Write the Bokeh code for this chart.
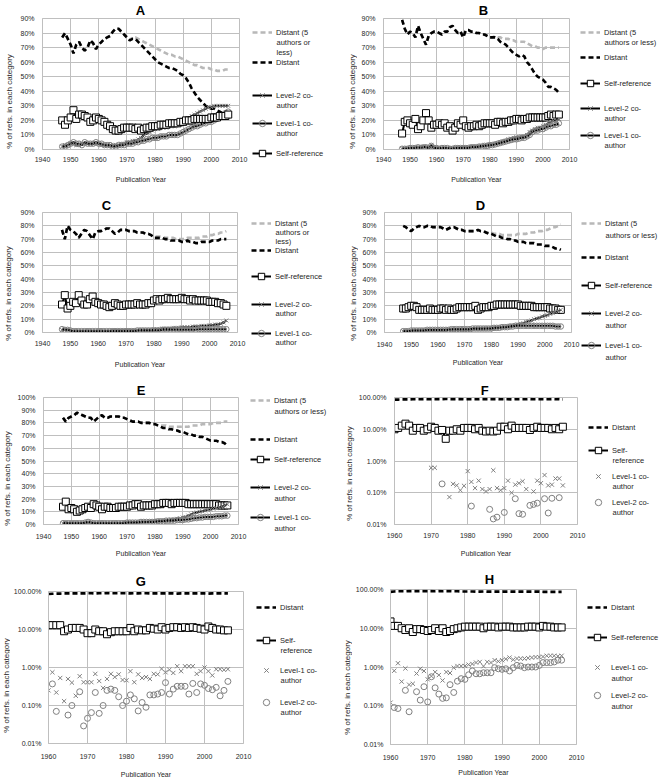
import math
from bokeh.plotting import figure
from bokeh.models import (Range1d, FixedTicker, CustomJSTickFormatter, Legend,
                          LegendItem, Label)
from bokeh.layouts import column, row
from bokeh.embed import file_html
from bokeh.resources import INLINE

# ---------------------------------------------------------------- data
YEARS_AE = list(range(1947, 2007))
YEARS_FH = list(range(1960, 2007))

A_DIST5 = [77,80,76,72,66,72,74,70,68,70, 75,73,69,72,74,76,77,78,81,83, 83,81,79,77,75,77,77,76,75,74,
           73,72,71,70,69,68,67,66,65,65, 64,64,63,62,61,60,59,58,58,57, 56,56,56,55,55,54,54,54,55,55]
A_DIST = [77,80,76,72,66,72,74,70,68,70, 75,73,69,72,74,76,77,78,81,83, 83,81,79,77,75,76,76,74,72,70,
          68,66,64,62,60,59,58,57,56,56, 55,54,52,51,49,46,42,39,36,34, 32,30,29,28,28,27,26,25,23,21]
A_L2 = [2,3,3,4,4,3,3,4,4,4, 4,4,4,4,3,3,3,3,3,3, 3,4,4,5,5,6,6,7,8,10,
        11,12,13,14,14,15,15,15,16,16, 16,17,17,18,19,21,23,24,25,26, 27,28,29,29,30,30,30,30,30,30]
A_L1 = [2,2,3,4,5,4,4,3,5,4, 4,4,5,4,4,3,3,3,2,2, 3,3,3,4,4,4,5,5,6,6,
        7,7,8,8,8,9,9,9,10,10, 10,10,11,12,13,14,15,16,16,17, 18,18,19,19,20,21,22,23,25,26]
A_SELF = [20,17,20,22,27,21,24,24,23,22, 19,20,22,21,20,19,17,16,14,13, 13,14,15,15,15,15,14,15,13,14,
          15,15,16,16,16,17,17,17,18,18, 18,18,19,19,20,20,20,21,21,21, 21,21,21,22,22,22,23,23,23,24]

B_DIST5 = [89,83,79,81,80,77,85,80,76,72, 78,80,81,81,80,79,81,81,84,85, 82,80,81,77,82,82,81,81,80,80,
           79,79,78,77,77,78,77,77,76,76, 76,75,75,74,74,74,74,73,72,71, 71,70,70,69,70,70,70,70,70,70]
B_DIST = [89,83,79,81,80,77,85,80,76,72, 78,80,81,81,80,79,81,81,84,85, 82,80,81,77,82,82,81,81,80,80,
          79,79,78,77,77,77,76,74,73,72, 70,68,66,65,64,65,64,60,58,55, 52,50,49,48,46,43,43,42,41,39]
B_SELF = [11,19,20,18,17,21,14,16,20,25, 20,15,17,17,18,17,18,15,16,13, 15,18,17,20,16,15,16,16,17,16,
          17,18,18,18,18,17,19,19,18,19, 19,20,20,21,21,20,21,21,22,22, 22,22,22,22,22,23,24,23,24,24]
B_L2 = [0.5,1,1,1,1,1.5,1.5,1.5,2,2, 1,3,1.5,1,1,1,1,1,0.5,1, 1,1,1.5,1.5,1.5,1.5,2,2,2,2.5,
        2.5,3,3,3.5,3.5,4,4.5,5,5.5,6, 7,7.5,8,8.5,8.5,9,9,10,12,13, 14,15,15,16,17,18,19,20,20,21]
B_L1 = [0.5,0.5,0.5,1,1,1,1.5,1,1.5,1.5, 1,2.5,1,1,0.5,1,1,1,0.5,0.5, 1,1,1,1,1,1,1.5,1.5,1.5,2,
        2,2.5,2.5,3,3,3.5,4,4.5,5,5.5, 6,6.5,7,7,7.5,8,8,9,10,12, 13,13,14,14,15,16,16,17,17,18]

C_DIST5 = [77,70,80,77,76,74,71,74,77,76, 73,70,75,76,76,77,78,78,76,74, 75,77,77,77,76,76,76,75,75,75,
           74,74,73,72,72,72,72,71,71,71, 71,70,70,70,70,71,71,71,71,71, 72,72,72,73,73,74,74,75,75,76]
C_DIST = [77,70,80,77,76,74,71,74,77,76, 73,70,75,76,76,77,78,78,76,74, 75,77,77,77,76,76,76,75,75,75,
          74,74,73,71,71,71,71,70,70,69, 69,69,69,68,68,69,68,68,67,67, 68,68,68,68,69,69,69,70,70,70]
C_SELF = [21,28,18,20,23,22,28,24,21,21, 25,27,23,22,21,21,20,19,20,22, 21,20,20,21,21,21,21,22,21,21,
          21,22,22,24,25,24,25,25,26,25, 25,25,25,26,25,25,24,25,24,24, 24,24,24,23,23,23,22,22,21,20]
C_L2 = [2,2,2,1.5,1,1,1,1,1,1, 1,1,1,1,1,1,1,1,1.5,1.5, 1.5,1.5,1.5,1.5,1.5,1.5,1.5,1.5,2,2,
        2,2,2,2.5,2.5,2.5,3,3,3,3, 3.5,3.5,3.5,4,4,4,4,4.5,4.5,4.5, 5,5,5,5.5,5.5,6,6,6.5,7.5,9]
C_L1 = [2.5,2,2,1.5,1,1,1,1,1,1, 1,1,1,1,1,1,1,1,1,1, 1,1,1,1,1,1,1,1.5,1.5,1.5,
        1.5,1.5,1.5,1.5,1.5,1.5,2,2,2,2, 2,2,2,2,2,2,2,2,2,2.5, 2.5,2.5,2.5,2.5,2.5,2.5,2.5,2.5,2.5,2.5]

D_DIST5 = [80,79,77,76,78,79,80,79,79,80, 80,79,79,79,79,78,77,78,79,79, 78,77,77,76,76,76,76,76,77,76,
           76,75,75,75,74,74,74,73,73,73, 73,73,73,74,74,74,74,75,75,75, 76,76,76,77,77,78,79,79,80,81]
D_DIST = [80,79,77,76,78,79,80,79,79,80, 80,79,79,79,79,78,77,78,79,79, 78,77,77,76,76,76,76,76,77,76,
          76,75,74,74,73,72,72,71,71,70, 70,69,69,68,68,68,67,67,67,67, 66,66,66,65,65,65,64,63,63,62]
D_SELF = [18,18,19,20,20,19,17,17,17,17, 18,17,17,17,18,18,17,18,17,17, 18,19,19,19,19,19,19,20,17,18,
          19,19,19,20,20,21,21,21,21,21, 21,21,21,21,20,20,20,20,20,19, 19,19,19,19,19,18,18,18,17,17]
D_L2 = [1,1,1,1,1.5,1.5,1.5,1.5,1.5,1.5, 1.5,1.5,1.5,1.5,1.5,1.5,1.5,2,2,2, 2,2,2,2,2,2,2.5,2.5,2.5,2.5,
        2.5,3,3,3,3,3.5,3.5,4,4,4.5, 5,5,5.5,6,6.5,7,8,8.5,9,10, 10.5,11,12,12.5,13,14,14.5,15.5,16,17]
D_L1 = [1,1,1,1.5,1.5,1.5,1.5,1.5,1.5,2, 2,2,2,2,2,2,2,2,2.5,2.5, 2.5,2.5,2.5,2.5,2.5,2.5,3,3,3,3,
        3,3,3,3,3.5,3.5,3.5,4,4,4, 4.5,4.5,5,5,5,5,5,5,5,5, 5,5,5,5,5,5,5,4.5,4.5,4.5]

E_DIST5 = [84,81,84,85,86,88,87,86,85,84, 84,81,83,85,86,84,84,85,85,85, 85,84,84,83,82,81,81,81,80,80,
           80,80,79,79,78,78,78,78,77,77, 77,77,77,77,77,77,78,78,78,78, 79,79,79,79,80,80,80,80,81,81]
E_DIST = [84,81,84,85,86,88,87,86,85,84, 84,81,83,85,86,84,84,85,85,85, 85,84,84,83,82,81,81,81,80,80,
          80,80,79,79,78,77,76,76,75,75, 74,74,73,73,72,71,71,70,70,69, 69,68,67,66,66,66,65,65,64,62]
E_SELF = [14,18,12,13,12,10,11,12,13,14, 13,16,15,14,12,14,14,13,13,13, 14,14,14,14,15,15,16,16,14,15,
          15,15,15,16,16,16,17,17,17,16, 17,17,17,17,17,16,16,16,16,16, 16,16,16,16,16,16,15,15,15,15]
E_L2 = [1,1.5,1,1,1,1,1,1,1,1.5, 1.5,1,1,1,1,1,1,1,1,1, 1,1,1.5,1.5,1.5,1.5,2,2,2,2,
        2,2.5,2.5,2.5,3,3,3,3.5,3.5,4, 4,4.5,5,5.5,6,7,8,9,9.5,10, 10.5,11,11.5,12,12.5,13,13.5,14,15,16]
E_L1 = [1,1,1,1,1,1,1,1,1.5,2, 1.5,1,1,1,1,1,1,1,1,1, 1,1,1,1.5,1.5,1.5,1.5,1.5,2,2,
        2,2,2,2,2.5,2.5,2.5,3,3,3, 3,3.5,3.5,3.5,4,4,4.5,5,5,5.5, 5.5,6,6,6,6,6.5,6.5,6.5,7,7]

F_DIST = [86,86,87,87,87,88,88,88,89,88, 88,88,89,89,90,89,89,89,89,88, 88,88,88,88,89,89,89,89,89,88,
          88,88,87,88,88,88,88,89,88,88, 88,88,88,89,88,89,87]
F_SELF = [10,11,13,15,13,9,11,11,9,10, 12,11,9,9.5,5,9,9,10,9,11, 11,11,10,11,9,8.5,9,8.5,9,12,
          12,10,13,11,11,11,11,9.5,11,12, 11,11,11,10,11,10,12]
F_L1_YEARS = [1970,1971,1975,1976,1977,1978,1979,1980,1981,1982,1983,1984,1985,1986,1987,1988,1989,
              1990,1991,1992,1993,1994,1995,1996,1998,1999,2000,2001,2002,2003,2004,2005,2006]
F_L1 = [0.61,0.61,0.073,0.19,0.17,0.12,0.165,0.48,0.22,0.14,0.24,0.13,0.11,0.13,0.51,0.14,0.12,
        0.14,0.24,0.10,0.18,0.20,0.23,0.13,0.11,0.24,0.20,0.36,0.17,0.18,0.28,0.28,0.17]
F_L2_YEARS = [1973,1981,1986,1987,1988,1990,1993,1994,1995,1997,1998,1999,2001,2002,2003,2005]
F_L2 = [0.19,0.038,0.03,0.015,0.017,0.024,0.065,0.022,0.021,0.04,0.043,0.047,0.065,0.023,0.067,0.07]

G_DIST = [86,87,88,88,89,89,89,89,89,89, 90,90,89,90,90,91,90,90,90,90, 90,89,90,89,90,90,89,89,89,89,
          89,89,89,88,89,89,89,89,89,89, 89,88,89,89,89,89,89]
G_SELF = [13,13,13,13,9,10,11,11,11,10, 8,8,10,9,9,7.5,8.5,9,9,9, 9,11,9,10,9.5,9.5,11,10.5,10,11.5,
          10,11,11.5,11.5,11,11.5,11,11.5,11,10.5, 10,12,11,10,10,9.5,9.5]
G_L1 = [0.25,0.75,0.22,0.53,0.13,0.5,0.4,0.18,0.59,0.41, 0.41,0.41,0.68,0.44,0.29,0.5,0.68,0.56,0.66,0.47,
        0.46,0.8,0.41,0.66,0.53,0.56,0.5,0.68,0.66,0.92, 0.75,0.87,0.72,1.08,0.8,1.08,1.08,1.08,0.68,0.8,
        1.0,0.8,0.62,0.9,0.9,0.87,0.9]
G_L2_YEARS = [1961,1962,1965,1966,1968,1969,1970,1971,1972,1973,1974,1975,1976,1977,1978,1979,1980,
              1981,1982,1983,1984,1985,1986,1987,1988,1989,1990,1991,1992,1993,1994,1995,1996,1997,
              1998,1999,2000,2001,2002,2003,2004,2005,2006]
G_L2 = [0.37,0.07,0.056,0.1,0.23,0.029,0.046,0.065,0.22,0.062,0.1,0.25,0.27,0.25,0.17,0.1,0.13,
        0.19,0.15,0.072,0.12,0.09,0.19,0.19,0.2,0.22,0.4,0.2,0.27,0.32,0.32,0.32,0.2,0.38,
        0.22,0.37,0.34,0.28,0.26,0.3,0.18,0.25,0.43]

H_DIST = [87,89,90,90,90,91,91,91,91,91, 91,91,90,91,90,91,91,90,90,89, 89,89,89,88,88,89,88,88,88,88,
          88,88,88,88,88,88,88,88,88,88, 88,87,87,87,87,87,87]
H_SELF = [15,11.5,11.5,10,9,10,8,9.5,9.5,9, 8.5,9,10,8.5,10,8,8.5,9.5,10,10.5, 11,11,11,11,11,10,11,11,11,10.5,
          11,11,11,10.5,10.5,10.5,10.5,11,11,11, 10.5,11.5,11,11,10.5,10.5,10.5]
H_L1 = [0.12,0.8,1.25,0.42,0.92,0.35,0.37,0.68,0.9,0.79, 0.48,0.58,0.74,0.62,0.45,0.74,0.7,0.96,1.06,1.06,
        1.06,1.15,1.2,1.3,1.35,1.05,1.35,1.3,1.5,1.4, 1.5,1.6,1.75,1.55,1.65,1.65,1.65,1.7,1.75,1.8,
        1.8,1.85,1.95,1.95,1.95,1.9,1.95]
H_L2_YEARS = [1961,1962,1964,1965,1967,1968,1969,1970,1971,1972,1973,1974,1975,1976,1977,1978,1979,
              1980,1981,1982,1983,1984,1985,1986,1987,1988,1989,1990,1991,1992,1993,1994,1995,1996,
              1997,1998,1999,2000,2001,2002,2003,2004,2005,2006]
H_L2 = [0.09,0.085,0.25,0.07,0.23,0.14,0.31,0.126,0.56,0.29,0.2,0.155,0.16,0.35,0.22,0.43,0.5,
        0.48,0.63,0.79,0.67,0.67,0.71,0.71,0.71,0.96,0.9,0.87,0.9,0.79,0.96,1.1,1.06,0.96,
        1.0,1.0,1.0,1.1,1.3,1.3,1.3,1.35,1.5,1.5]

LIN_TICKS_X = [1940, 1950, 1960, 1970, 1980, 1990, 2000, 2010]
LOG_TICKS_X = [1960, 1970, 1980, 1990, 2000, 2010]
LOG_TICKS_Y = [0.01, 0.1, 1, 10, 100]
X_TITLE = "Publication Year"
Y_TITLE = "% of refs. in each category"

# ---------------------------------------------------------------- layout / style
FONT = "Liberation Sans"
TXT = "#262626"
GRID = "#bfbfbf"
GREY_DASH = "#b8b8b8"
MARK = "#808080"
GW, GH, LS = 20, 16, 4
RB = 9
LEG_FONT = "7.5px"

# frame=(left, right, top, bottom) and all other positions in page pixels
PANELS = {
    "A": dict(origin=(0, 0), size=(330, 195), frame=(42, 239, 17, 149), title=(140, 1),
              ylab=(8.5, 101), ylw=16, ystand=8, ymax=90, xtick=7, xlab_s=11, gx=252, step=10,
              legend=[("d5", ["Distant (5", "authors or", "less)"], 32), ("dist", ["Distant"], 62),
                      ("l2", ["Level-2 co-", "author"], 95), ("l1", ["Level-1 co-", "author"], 123),
                      ("self", ["Self-reference"], 153)]),
    "B": dict(origin=(330, 0), size=(331, 195), frame=(383, 569, 18, 149), title=(483, 1),
              ylab=(352, 101), ylw=27, ystand=8, ymax=90, xtick=7, xlab_s=11, gx=580, step=10,
              legend=[("d5", ["Distant (5", "authors or less)"], 32), ("dist", ["Distant"], 57),
                      ("self", ["Self-reference"], 83), ("l2", ["Level-2 co-", "author"], 108),
                      ("l1", ["Level-1 co-", "author"], 135)]),
    "C": dict(origin=(0, 195), size=(330, 185), frame=(42, 237, 210, 332), title=(106, 0),
              ylab=(8, 293), ylw=16, ystand=8, ymax=90, xtick=8, xlab_s=12, gx=251, step=9,
              legend=[("d5", ["Distant (5", "authors or", "less)"], 223), ("dist", ["Distant"], 250),
                      ("self", ["Self-reference"], 276), ("l2", ["Level-2 co-", "author"], 304),
                      ("l1", ["Level-1 co-", "author"], 333)]),
    "D": dict(origin=(330, 195), size=(331, 185), frame=(384, 571, 210, 332), title=(480, 0),
              ylab=(353, 293), ylw=28, ystand=8, ymax=90, xtick=9, xlab_s=9, gx=581, step=12,
              legend=[("d5", ["Distant (5", "authors or less)"], 223), ("dist", ["Distant"], 257),
                      ("self", ["Self-reference"], 285), ("l2", ["Level-2 co-", "author"], 313),
                      ("l1", ["Level-1 co-", "author"], 345)]),
    "E": dict(origin=(0, 380), size=(330, 185), frame=(42, 238, 396, 524), title=(140, 0),
              ylab=(7, 478), ylw=14, ystand=8, ymax=100, xtick=9, xlab_s=8, gx=250, step=11,
              legend=[("d5", ["Distant (5", "authors or less)"], 400), ("dist", ["Distant"], 439),
                      ("self", ["Self-reference"], 459), ("l2", ["Level-2 co-", "author"], 487),
                      ("l1", ["Level-1 co-", "author"], 517)]),
    "F": dict(origin=(330, 380), size=(331, 185), frame=(392, 577, 395, 524), title=(483, 0),
              ylab=(349, 473), ylw=25, ystand=8, xtick=8, xlab_s=9, gx=588, step=10,
              legend=[("dist", ["Distant"], 427), ("self", ["Self-", "reference"], 450),
                      ("l1", ["Level-1 co-", "author"], 476), ("l2", ["Level-2 co-", "author"], 502)]),
    "G": dict(origin=(0, 565), size=(330, 215), frame=(45, 243, 591, 744), title=(137, 6),
              ylab=(6, 685), ylw=10, ystand=7, xtick=10, xlab_s=9, gx=256, step=10,
              legend=[("dist", ["Distant"], 607), ("self", ["Self-", "reference"], 640),
                      ("l1", ["Level-1 co-", "author"], 670), ("l2", ["Level-2 co-", "author"], 702)]),
    "H": dict(origin=(330, 565), size=(331, 215), frame=(388, 576, 589, 744), title=(487, 6),
              ylab=(347, 687), ylw=22, ystand=7, xtick=10, xlab_s=6, gx=587, step=11,
              legend=[("dist", ["Distant"], 607), ("self", ["Self-reference"], 637),
                      ("l1", ["Level-1 co-", "author"], 667), ("l2", ["Level-2 co-", "author"], 695)]),
}

LINEAR_DATA = {
    "A": dict(d5=A_DIST5, dist=A_DIST, l2=A_L2, l1=A_L1, self=A_SELF),
    "B": dict(d5=B_DIST5, dist=B_DIST, l2=B_L2, l1=B_L1, self=B_SELF),
    "C": dict(d5=C_DIST5, dist=C_DIST, l2=C_L2, l1=C_L1, self=C_SELF),
    "D": dict(d5=D_DIST5, dist=D_DIST, l2=D_L2, l1=D_L1, self=D_SELF),
    "E": dict(d5=E_DIST5, dist=E_DIST, l2=E_L2, l1=E_L1, self=E_SELF),
}
LOG_DATA = {
    "F": dict(dist=(YEARS_FH, F_DIST), self=(YEARS_FH, F_SELF), l1=(F_L1_YEARS, F_L1), l2=(F_L2_YEARS, F_L2)),
    "G": dict(dist=(YEARS_FH, G_DIST), self=(YEARS_FH, G_SELF), l1=(YEARS_FH, G_L1), l2=(G_L2_YEARS, G_L2)),
    "H": dict(dist=(YEARS_FH, H_DIST), self=(YEARS_FH, H_SELF), l1=(YEARS_FH, H_L1), l2=(H_L2_YEARS, H_L2)),
}


def no_align(fig):
    if "frame_align" in fig.properties():
        fig.frame_align = False
    return fig


def blank_figure(width, height):
    """A figure whose frame is the whole canvas (used for the legend and the y title)."""
    f = figure(width=width, height=height, x_range=Range1d(0, 1), y_range=Range1d(0, 1),
               x_axis_type=None, y_axis_type=None, toolbar_location=None,
               output_backend="svg", tools="")
    f.min_border_left = 0
    f.min_border_right = 0
    f.min_border_top = 0
    f.min_border_bottom = 0
    f.outline_line_color = None
    f.background_fill_color = "white"
    f.border_fill_color = "white"
    return no_align(f)


def draw_series(p, key, xs, ys, log):
    """Draw one series; returns its renderers (used by the legend)."""
    if key == "d5":
        return [p.line(xs, ys, line_color=GREY_DASH, line_width=2.6, line_dash="5 3")]
    if key == "dist":
        return [p.line(xs, ys, line_color="black", line_width=2.6, line_dash="5 3")]
    if key == "self":
        return [p.line(xs, ys, line_color="black", line_width=2),
                p.scatter(xs, ys, marker="square", size=7, fill_color="white",
                          line_color="black", line_width=1)]
    if log:
        if key == "l1":
            return [p.scatter(xs, ys, marker="x", size=6, line_color=MARK, line_width=1)]
        return [p.scatter(xs, ys, marker="circle", size=6, fill_alpha=0, line_color=MARK,
                          line_width=1)]
    mk = "x" if key == "l2" else "circle"
    return [p.line(xs, ys, line_color="black", line_width=2),
            p.scatter(xs, ys, marker=mk, size=5.5, fill_alpha=0, line_color=MARK, line_width=1)]


def style_axis(ax):
    ax.axis_line_color = GRID
    ax.major_tick_line_color = None
    ax.minor_tick_line_color = None
    ax.major_tick_out = 0
    ax.major_tick_in = 0
    ax.minor_tick_out = 0
    ax.minor_tick_in = 0
    ax.major_label_text_font = FONT
    ax.major_label_text_font_size = "7px"
    ax.major_label_text_color = TXT
    ax.axis_label_text_font = FONT
    ax.axis_label_text_font_style = "normal"
    ax.axis_label_text_color = TXT


def make_panel(name):
    lay = PANELS[name]
    log = name in LOG_DATA
    ox, oy = lay["origin"]
    W, H = lay["size"]
    x0, x1, y0, y1 = lay["frame"]
    ylw = lay["ylw"]
    lg_x = x1 - ox + RB          # where the legend strip starts inside the panel
    Wp = lg_x - ylw
    Wl = W - lg_x

    # ---- y title strip
    yl = blank_figure(ylw, H)
    lx, lyy = lay["ylab"]
    yl.add_layout(Label(x=lx - ox, y=H - (lyy - oy), x_units="screen", y_units="screen",
                        text=Y_TITLE, angle=math.pi / 2, text_font=FONT, text_font_size="8px",
                        text_color=TXT, text_align="center", text_baseline="middle"))

    # ---- the chart itself
    common = dict(width=Wp, height=H, toolbar_location=None, output_backend="svg", tools="")
    if log:
        p = figure(x_range=Range1d(1960, 2010), y_range=Range1d(0.01, 100), y_axis_type="log",
                   **common)
    else:
        p = figure(x_range=Range1d(1940, 2010), y_range=Range1d(0, lay["ymax"]), **common)
    no_align(p)
    p.min_border_left = x0 - ox - ylw
    p.min_border_right = RB
    p.min_border_top = y0 - oy
    p.min_border_bottom = H - (y1 - oy)
    p.outline_line_color = GRID
    p.background_fill_color = "white"
    p.border_fill_color = "white"
    p.xgrid.grid_line_color = GRID
    p.ygrid.grid_line_color = GRID

    tx, tstand = lay["title"]
    p.title.text = name
    p.title.text_font = FONT
    p.title.text_font_size = "13px"
    p.title.text_font_style = "bold"
    p.title.text_color = "black"
    p.title.align = "left"
    p.title.offset = tx - x0 - 4.7
    p.title.standoff = tstand

    style_axis(p.xaxis[0])
    style_axis(p.yaxis[0])
    p.xaxis.axis_label = X_TITLE
    p.xaxis.axis_label_text_font_size = "7px"
    p.xaxis.major_label_standoff = lay["xtick"]
    p.xaxis.axis_label_standoff = lay["xlab_s"]
    p.yaxis.major_label_standoff = lay["ystand"]

    if log:
        p.xaxis.ticker = FixedTicker(ticks=LOG_TICKS_X)
        p.yaxis.ticker = FixedTicker(ticks=LOG_TICKS_Y)
        p.yaxis.formatter = CustomJSTickFormatter(code="return tick.toFixed(2) + '%';")
    else:
        p.xaxis.ticker = FixedTicker(ticks=LIN_TICKS_X)
        p.yaxis.ticker = FixedTicker(ticks=list(range(0, lay["ymax"] + 1, 10)))
        p.yaxis.formatter = CustomJSTickFormatter(code="return tick.toFixed(0) + '%';")

    if log:
        d = LOG_DATA[name]
        for key in ["dist", "self", "l1", "l2"]:
            draw_series(p, key, d[key][0], d[key][1], True)
    else:
        d = LINEAR_DATA[name]
        for key, _, _ in lay["legend"]:
            draw_series(p, key, YEARS_AE, d[key], False)

    # ---- legend strip (same glyph styles, its sample data lies outside the view)
    lg = blank_figure(Wl, H)
    gx = lay["gx"] - ox - lg_x
    for key, lines, ry in lay["legend"]:
        rs = draw_series(lg, key, [-5, -4], [-5, -4], log)
        cy = H - (ry - oy)
        leg = Legend(items=[LegendItem(label=lines[0], renderers=rs)],
                     location=(gx, cy - GH / 2), padding=0, margin=0, spacing=0,
                     glyph_width=GW, glyph_height=GH, label_height=GH, label_standoff=LS,
                     label_text_font=FONT, label_text_font_size=LEG_FONT, label_text_color=TXT,
                     border_line_alpha=0, background_fill_alpha=0)
        lg.add_layout(leg)
        for k, t in enumerate(lines[1:], 1):
            lg.add_layout(Label(x=gx + GW + LS, y=cy - k * lay["step"], x_units="screen",
                                y_units="screen", text=t, text_font=FONT,
                                text_font_size=LEG_FONT, text_color=TXT,
                                text_baseline="middle", text_align="left"))
    return row(yl, p, lg)


panels = {n: make_panel(n) for n in "ABCDEFGH"}
layout = column(row(panels["A"], panels["B"]), row(panels["C"], panels["D"]),
                row(panels["E"], panels["F"]), row(panels["G"], panels["H"]))

open("out.html", "w").write(file_html(layout, INLINE))
